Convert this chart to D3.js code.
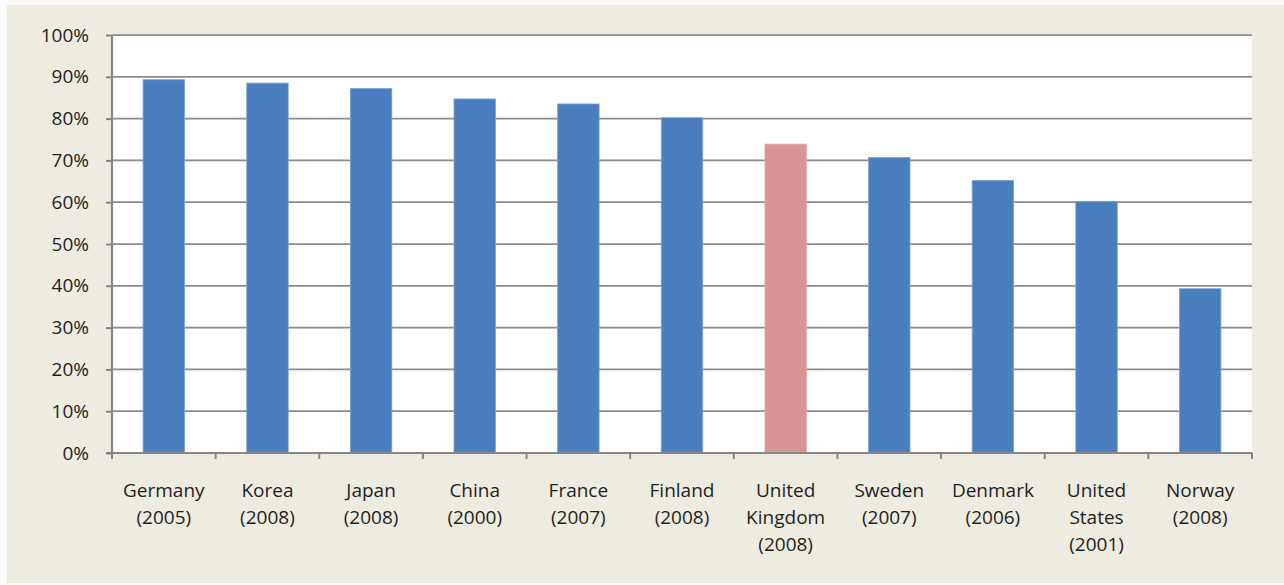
<!DOCTYPE html>
<html>
<head>
<meta charset="utf-8">
<script src="https://cdn.jsdelivr.net/npm/d3@7"></script>
<style>
  body { margin: 0; background: #fbfbfb; }
  svg { display: block; }
</style>
</head>
<body>
<div id="chart"></div>
<script>
// categories and values
var countries = ["Germany", "Korea", "Japan", "China", "France", "Finland",
    "United Kingdom", "Sweden", "Denmark", "United States", "Norway"];
var labelLines = [["Germany", "(2005)"], ["Korea", "(2008)"], ["Japan", "(2008)"],
    ["China", "(2000)"], ["France", "(2007)"], ["Finland", "(2008)"],
    ["United", "Kingdom", "(2008)"], ["Sweden", "(2007)"], ["Denmark", "(2006)"],
    ["United", "States", "(2001)"], ["Norway", "(2008)"]];
var shares = [0.893, 0.885, 0.872, 0.847, 0.835, 0.802, 0.739, 0.707, 0.652, 0.602, 0.393];
var highlight = "United Kingdom";
var yTicks = [0, 0.1, 0.2, 0.3, 0.4, 0.5, 0.6, 0.7, 0.8, 0.9, 1.0];

var W = 1284, H = 585;
var margin = { top: 35, right: 32, bottom: 132, left: 112 },
    width = W - margin.left - margin.right,
    height = H - margin.top - margin.bottom;
var font = "'Open Sans', sans-serif";
var fontSize = "19px";

var svg = d3.select("#chart")
    .append("svg")
    .attr("width", W)
    .attr("height", H);

// beige chart area
svg.append("rect")
    .attr("x", 7).attr("y", 5)
    .attr("width", W - 7).attr("height", 578)
    .attr("fill", "#EEEBE0");

var g = svg.append("g")
    .attr("transform", "translate(" + margin.left + "," + margin.top + ")");

// white plot area
g.append("rect")
    .attr("width", width).attr("height", height)
    .attr("fill", "#ffffff");

var x = d3.scaleBand()
    .domain(countries)
    .range([0, width])
    .paddingInner(0.6)
    .paddingOuter(0.3);

var y = d3.scaleLinear()
    .domain([0, 1])
    .range([height, 0]);

// gridlines
g.append("g")
    .selectAll("line")
    .data(yTicks.slice(1))
    .enter().append("line")
    .attr("x1", 0).attr("x2", width)
    .attr("y1", function(d) { return y(d); })
    .attr("y2", function(d) { return y(d); })
    .attr("stroke", "#8c8c8c")
    .attr("stroke-width", 1.75);

// bars
g.append("g")
    .selectAll("rect")
    .data(shares)
    .enter().append("rect")
    .attr("x", function(d, i) { return x(countries[i]); })
    .attr("y", function(d) { return y(d); })
    .attr("width", x.bandwidth())
    .attr("height", function(d) { return height - y(d); })
    .attr("fill", function(d, i) { return countries[i] == highlight ? "#D99594" : "#4A7EBF"; })
    .attr("stroke", function(d, i) { return countries[i] == highlight ? "#e3aaa9" : "#7aa3d6"; })
    .attr("stroke-width", 0.8);

// y axis
var yAxis = g.append("g")
    .call(d3.axisLeft(y).tickValues(yTicks).tickFormat(d3.format(".0%")).tickSize(6).tickPadding(17));
yAxis.select(".domain").attr("stroke", "#868686").attr("stroke-width", 2.2)
    .attr("d", "M0,0V" + height);
yAxis.selectAll(".tick line").attr("stroke", "#868686").attr("stroke-width", 2);
yAxis.selectAll(".tick text")
    .attr("fill", "#1f1f1f")
    .style("font-family", font)
    .style("font-size", fontSize);

// x axis with ticks at the category boundaries
var bounds = d3.range(countries.length + 1).map(function(i) { return i * width / countries.length; });
var xg = g.append("g").attr("transform", "translate(0," + height + ")");
xg.append("line")
    .attr("x1", -6).attr("x2", width)
    .attr("stroke", "#868686").attr("stroke-width", 2.2);
xg.selectAll(".btick")
    .data(bounds)
    .enter().append("line")
    .attr("x1", function(d) { return d; }).attr("x2", function(d) { return d; })
    .attr("y1", 0).attr("y2", 6)
    .attr("stroke", "#868686").attr("stroke-width", 2);

var labels = xg.selectAll(".lab")
    .data(countries)
    .enter().append("text")
    .attr("x", function(d) { return x(d) + x.bandwidth() / 2; })
    .attr("text-anchor", "middle")
    .attr("fill", "#1f1f1f")
    .style("font-family", font)
    .style("font-size", fontSize);
labels.selectAll("tspan")
    .data(function(d, i) { return labelLines[i]; })
    .enter().append("tspan")
    .attr("x", function() { var c = d3.select(this.parentNode).datum(); return x(c) + x.bandwidth() / 2; })
    .attr("y", function(d, j) { return 44 + j * 27; })
    .text(function(d) { return d; });
</script>
</body>
</html>
